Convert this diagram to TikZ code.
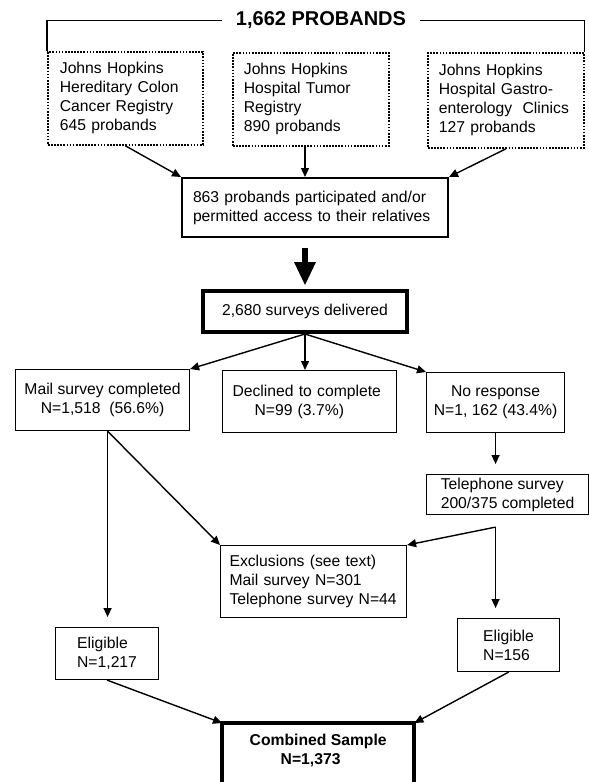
\documentclass[tikz,border=0pt]{standalone}
\usepackage{fontspec}
\setmainfont{Liberation Sans}
\usetikzlibrary{arrows.meta}
\newcommand{\boxfont}{\fontsize{15.7}{19}\selectfont}
\newcommand{\headfont}{\fontsize{20}{24}\selectfont\bfseries}

\begin{document}
\begin{tikzpicture}[x=1pt,y=-1pt,line join=miter]
                \tikzstyle{every node}+=[font=\boxfont, anchor=north west, inner ysep=0pt]
                \tikzstyle{cbox}=[draw, line width=1.1pt]
                \tikzstyle{dbox}=[draw, line width=1.8pt, dash pattern=on 1.7pt off 1.4pt, align=left]
                \tikzstyle{arr}=[line width=1.4pt, -{Triangle[length=9pt,width=8pt]}]
                \useasboundingbox (0,0) rectangle (589,782);
                \clip (0,0) rectangle (589,782);
                \node [font=\headfont, anchor=center, inner xsep=14pt] (total) at (321,20.5) {1,662 PROBANDS};
                \node [dbox, text width=131pt, inner xsep=12pt, minimum height=93pt] (hccr) at (47,51) {Johns Hopkins\\Hereditary Colon\\Cancer Registry\\645 probands};
                \node [dbox, text width=134pt, inner xsep=11pt, minimum height=93pt] (tumor) at (232,52) {Johns Hopkins\\Hospital Tumor\\Registry\\890 probands};
                \node [dbox, text width=134pt, inner xsep=11pt, minimum height=95pt] (gastro) at (427,52) {Johns Hopkins\\Hospital Gastro-\\enterology\ \ Clinics\\127 probands};
                \node [draw, line width=2pt, align=left, text width=244pt, inner xsep=11pt, minimum height=59pt] (part) at (181,177) {863 probands participated and/or\\permitted access to their relatives};
                \node [draw, line width=4pt, align=center, minimum width=204pt, minimum height=41pt] (surveys) at (201,289) {2,680 surveys delivered};
                \node [cbox, align=center, minimum width=174pt, minimum height=61pt] (mail) at (15,369) {Mail survey completed\\N=1,518\ \ (56.6\%)};
                \node [cbox, align=left, text width=154pt, inner xsep=10pt, minimum height=62pt] (declined) at (222,370) {Declined to complete\\\hspace*{22pt}N=99 (3.7\%)};
                \node [cbox, align=center, minimum width=138pt, minimum height=60pt] (noresp) at (426,372) {No response\\N=1, 162 (43.4\%)};
                \node [cbox, align=left, minimum width=162pt, minimum height=40pt] (phone) at (426,474) {Telephone survey\\200/375 completed};
                \node [cbox, align=left, text width=168pt, inner xsep=9pt, minimum height=72pt] (excl) at (220,545) {Exclusions (see text)\\Mail survey N=301\\Telephone survey N=44};
                \node [cbox, align=left, minimum width=103pt, minimum height=52pt] (eligL) at (55,627) {Eligible\\N=1,217};
                \node [cbox, align=left, minimum width=102pt, minimum height=53pt] (eligR) at (457,618) {Eligible\\N=156};
                \node [font=\boxfont\bfseries, align=left, minimum width=192pt, minimum height=54pt] (comb) at (222,723) {Combined Sample\\\hspace*{31pt}N=1,373};
                \draw [line width=4pt] ([yshift=-30pt]comb.south west) |- (comb.north east) -- ([yshift=-30pt]comb.south east);
                \draw [line width=1.1pt] (total.west) -| (hccr.north west);
                \draw [line width=1.1pt] (total.east) -| (gastro.north east);
                \draw [arr] (hccr.south) -- (part.north west);
                \draw [arr] (surveys.north |- tumor.south) -- (surveys.north |- part.north);
                \draw [arr] (gastro.south) -- (part.north east);
                \draw [line width=6pt, -{Triangle[length=23pt,width=22pt,line width=0pt]}, shorten <=10pt, shorten >=4pt] (surveys.north |- part.south) -- (surveys.north);
                \draw [arr] (surveys.south) -- (mail.north east);
                \draw [arr] (surveys.south) -- (surveys.south |- declined.north);
                \draw [arr] (surveys.south) -- (noresp.north west);
                \draw [arr, shorten >=10pt] (noresp.south) -- (noresp.south |- phone.north);
                \coordinate (tsplit) at ([yshift=-12pt]phone.south -| noresp.south);
                \coordinate (msplit) at ([xshift=5pt]mail.south);
                \draw [arr] (tsplit) -- (excl.north east);
                \draw [arr, shorten >=10pt] (tsplit) -- (tsplit |- eligR.north);
                \draw [arr] (msplit) -- (excl.north west);
                \draw [arr, shorten >=10pt] (msplit) -- (msplit |- eligL.north);
                \draw [arr] (eligL.south) -- (comb.north west);
                \draw [arr] (eligR.south) -- (comb.north east);
\end{tikzpicture}
\end{document}
